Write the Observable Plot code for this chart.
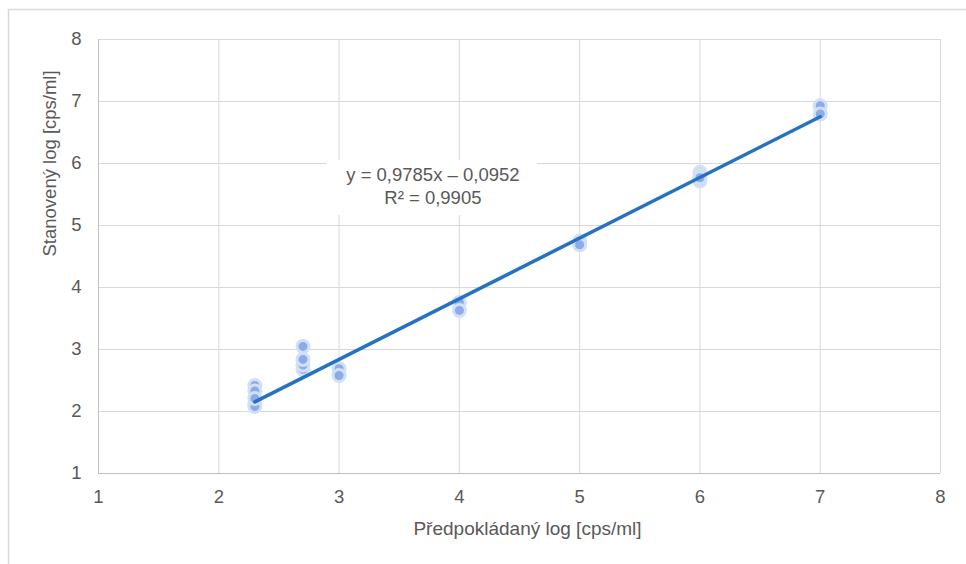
<!DOCTYPE html>
<html>
<head>
<meta charset="utf-8">
<script src="https://cdn.jsdelivr.net/npm/d3@7"></script>
<script src="https://cdn.jsdelivr.net/npm/@observablehq/plot@0.6"></script>
<style>
  html, body { margin: 0; padding: 0; background: #fff; }
  #chart svg { display: block; }
</style>
</head>
<body>
<div id="chart"></div>
<script>
const expectedLog = [2.3, 2.3, 2.3, 2.3, 2.3, 2.7, 2.7, 2.7, 2.7, 3, 3, 4, 4, 5, 5, 6, 6, 6, 6, 7, 7];
const measuredLog = [2.42, 2.33, 2.12, 2.08, 2.21, 3.05, 2.68, 2.75, 2.84, 2.69, 2.58, 3.76, 3.63, 4.75, 4.69, 5.86, 5.81, 5.72, 5.77, 6.93, 6.80];

// Linear trendline endpoints (as drawn)
const trendX = [2.3, 7];
const trendY = [2.155, 6.754];

const ticks = [1, 2, 3, 4, 5, 6, 7, 8];
const tickLabels = ["1", "2", "3", "4", "5", "6", "7", "8"];
const xTitle = "Předpokládaný log [cps/ml]";
const yTitle = "Stanovený log [cps/ml]";
const equationText = "y = 0,9785x – 0,0952\nR² = 0,9905";
// annotation anchor (data coords) and box extents
const labelX = [3.78];
const labelY = [5.653];
const labelBoxX = [2.90, 4.65];
const labelBoxY = [5.16, 6.05];

const points = expectedLog.map((x, i) => ({x, y: measuredLog[i]}));
const trend = trendX.map((x, i) => ({x, y: trendY[i]}));
const fmt = (d) => tickLabels[ticks.indexOf(d)];

const textColor = "#595959";
const font = "'Liberation Sans', Arial, sans-serif";

const chart = Plot.plot({
  width: 966,
  height: 564,
  marginLeft: 98,
  marginRight: 26,
  marginTop: 39,
  marginBottom: 91,
  style: {fontFamily: font, fontSize: "18.5px", color: textColor, background: "#fff"},
  x: {domain: [1, 8]},
  y: {domain: [1, 8]},
  marks: [
    Plot.gridX(ticks, {stroke: "#d9d9d9", strokeOpacity: 1}),
    Plot.gridY(ticks, {stroke: "#d9d9d9", strokeOpacity: 1}),
    Plot.ruleY([1], {stroke: "#bfbfbf", strokeWidth: 1.2}),
    Plot.ruleX([1], {stroke: "#bfbfbf", strokeWidth: 1}),
    Plot.axisX(ticks, {tickSize: 0, tickPadding: 16, label: null, fill: textColor, tickFormat: fmt}),
    Plot.axisY(ticks, {tickSize: 0, tickPadding: 17, label: null, fill: textColor, tickFormat: fmt}),
    Plot.text([xTitle], {frameAnchor: "bottom", dx: 8, dy: 55, lineAnchor: "middle", fill: textColor, fontSize: 19}),
    Plot.text([yTitle], {frameAnchor: "left", dx: -48, rotate: -90, lineAnchor: "middle", fill: textColor}),
    Plot.dot(points, {x: "x", y: "y", r: 6, fill: "#8eaae8", stroke: "#cfe0f7", strokeWidth: 3}),
    Plot.line(trend, {x: "x", y: "y", stroke: "#2672c2", strokeWidth: 3.5}),
    Plot.rect([0], {x1: () => labelBoxX[0], x2: () => labelBoxX[1], y1: () => labelBoxY[0], y2: () => labelBoxY[1], fill: "#fff"}),
    Plot.text([equationText], {x: () => labelX[0], y: () => labelY[0], lineHeight: 1.25, lineAnchor: "middle", fill: textColor})
  ]
});

d3.select(chart).append("rect")
  .attr("x", 8.5).attr("y", 9.5)
  .attr("width", 1000).attr("height", 700)
  .attr("fill", "none").attr("stroke", "#d9d9d9").attr("stroke-width", 1.5);

document.getElementById("chart").appendChild(chart);
</script>
</body>
</html>
